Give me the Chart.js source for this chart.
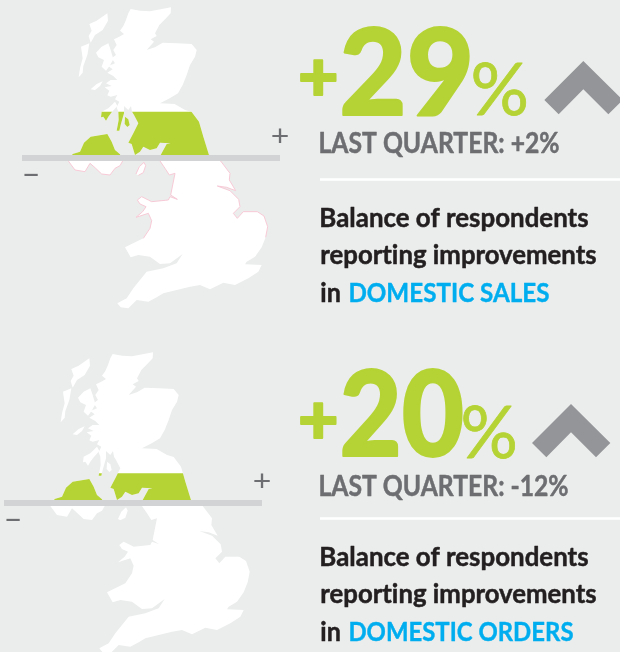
<!DOCTYPE html>
<html>
<head>
<meta charset="utf-8">
<style>
html,body{margin:0;padding:0;background:#ebedec;}
canvas{display:block;}
</style>
<script src="https://cdn.jsdelivr.net/npm/chart.js@4/dist/chart.umd.min.js"></script>
</head>
<body>
<canvas id="c" width="620" height="652"></canvas>
<script>
// ---- values
const metricNames = ['DOMESTIC SALES', 'DOMESTIC ORDERS'];
const balanceValues = [29, 20];
const lastQuarterValues = [2, -12];
const introLines = ['Balance of respondents', 'reporting improvements', 'in '];
const lastQuarterLabel = 'LAST QUARTER: ';
const axisSigns = ['+', '\u2013'];
// Upper edge of the green fill on the map, in map units (bar sits at 465)
const fillTops = [335, 385];
const fillBase = 465;

// ---- UK outline (map units)
const eastUpper = [[385,40],[392,27],[420,32],[450,34],[482,28],[513,22],[512,40],[495,58],[478,75],[465,100],[470,108],[452,118],[462,125],[440,150],[465,142],[488,128],[530,130],[575,132],[590,150],[585,170],[570,195],[560,225],[548,255],[534,280],[509,295],[480,310],[524,312],[555,330],[575,336],[597,365],[610,410],[627,465]];
const eastLower = [[627,465],[662,483],[690,520],[688,540],[707,572],[680,562],[652,558],[690,572],[716,598],[720,620],[700,640],[712,655],[730,635],[772,635],[792,648],[803,680],[797,712]];
const southCoast = [[797,712],[785,742],[765,770],[740,785],[735,793],[785,795],[775,815],[745,835],[705,855],[670,848],[630,868],[600,855],[570,860],[530,870],[490,880],[470,892],[445,905],[410,900],[385,925],[362,922],[352,910],[380,895],[400,865],[420,840],[440,815],[490,805],[530,790],[548,762],[510,790],[480,792],[450,770],[415,765],[392,772],[375,742],[430,715]];
const westLower = [[430,715],[450,685],[455,662],[445,640],[408,652],[428,635],[438,620],[420,612],[412,600],[425,590],[445,600],[455,605],[505,600],[510,590],[532,598],[512,585],[518,555],[525,520],[508,525],[495,505],[480,483]];
const westUpper = [[480,483],[482,465],[500,432],[512,430],[480,428],[470,445],[450,450],[430,440],[420,455],[405,465],[395,432],[385,428],[400,400],[415,370],[402,345],[396,335],[393,318],[385,330],[372,318],[372,340],[362,375],[358,392],[350,392],[356,360],[355,335],[350,322],[358,305],[345,298],[352,285],[332,290],[322,286],[328,272],[314,262],[335,258],[318,250],[332,240],[352,240],[340,228],[322,218],[338,208],[325,198],[345,190],[335,175],[348,165],[340,150],[350,135],[342,118],[358,110],[372,102],[360,92],[370,78],[378,60],[385,40]];
const jura = [[345,305],[352,318],[335,337],[325,350],[318,362],[310,350],[303,352],[305,335],[325,325]];
const arran = [[375,350],[385,358],[389,375],[382,381],[374,372]];
const skye = [[288,158],[305,140],[325,130],[332,150],[340,178],[330,196],[318,212],[305,200],[312,180],[295,172]];
const lewis = [[268,72],[290,62],[322,40],[324,62],[308,90],[285,105],[272,128],[266,108],[275,92]];
const uist = [[243,140],[268,130],[262,165],[250,198],[248,218],[236,232],[240,205],[248,175]];
const mull = [[272,268],[290,252],[308,244],[300,258],[285,270]];
const niNorth = [[205,483],[218,462],[240,455],[252,428],[272,410],[322,402],[335,425],[345,450],[360,463],[368,483]];
const niSouth = [[368,483],[360,497],[345,505],[330,525],[305,522],[285,503],[270,490],[255,515],[225,510],[205,483]];
const isleOfMan = [[408,522],[418,500],[432,487],[437,497],[430,518],[415,526]];
const chevronShape = [[1750,183],[1633,300],[1676,343],[1750,268],[1825,343],[1868,300]];

const mainland = [].concat(eastUpper, eastLower, southCoast, westLower, westUpper);
const northernIreland = niNorth.concat(niSouth);
const landParts = [mainland, northernIreland, isleOfMan, jura, arran, skye, lewis, uist, mull];
const pinkCoasts = [eastLower, westLower, niSouth, isleOfMan];
const barLine = [[66,474],[840,474]];

// ---- styles and placing
const GREEN = '#b5d334', WHITE = '#ffffff', BAR = '#d1d3d4', GREY = '#939598',
      TEXTGREY = '#6d6e71', DARK = '#231f20', BLUE = '#00aeef', PINK = '#f7c9d6';
const mapOffsets = [[0,0],[-54,1035]];
const chevronOffsets = [[0,0],[-37,1029]];
const FONT = 'Lato, sans-serif';

function pts(list, dx, dy){ return list.map(p => ({x:p[0]+dx, y:p[1]+dy})); }
function clipY(list, yVal, keepBelow){
  const out = [];
  for (let i=0;i<list.length;i++){
    const a=list[i], b=list[(i+1)%list.length];
    const ain = keepBelow ? a[1]>=yVal : a[1]<=yVal;
    const bin = keepBelow ? b[1]>=yVal : b[1]<=yVal;
    if (ain) out.push(a);
    if (ain!==bin){
      const t=(yVal-a[1])/(b[1]-a[1]);
      out.push([a[0]+t*(b[0]-a[0]), yVal]);
    }
  }
  return out;
}
const datasets = [];
function add(list, dx, dy, opts){
  datasets.push(Object.assign({data:pts(list,dx,dy), showLine:true, pointRadius:0, borderWidth:0,
    borderDash:[100,0], fill:false, order:-datasets.length}, opts));
}
mapOffsets.forEach((o,m)=>{
  landParts.forEach(part=>add(part,o[0],o[1],{fill:'shape',backgroundColor:WHITE,borderColor:WHITE}));
  landParts.forEach(part=>{
    const c = clipY(clipY(part,fillTops[m],true),fillBase,false);
    if (c.length>2) add(c,o[0],o[1],{fill:'shape',backgroundColor:GREEN,borderColor:GREEN});
  });
  if (m===0) pinkCoasts.forEach(part=>add(part,o[0],o[1],{borderWidth:1,borderColor:PINK}));
  add(barLine,o[0],o[1],{borderWidth:6,borderColor:BAR});
  add(chevronShape,chevronOffsets[m][0],chevronOffsets[m][1],{fill:'shape',backgroundColor:GREY,borderColor:GREY});
});

// Draw a string so that its ink spans x1..x2 on the given baseline; a top value fits the ink height too
function fit(ctx, text, font, color, x1, x2, base, top, stroke){
  ctx.save();
  ctx.font = font; ctx.fillStyle = color; ctx.strokeStyle = color; ctx.textBaseline='alphabetic'; ctx.textAlign='left';
  ctx.letterSpacing = '0.01px'; ctx.lineJoin='round';
  const m = ctx.measureText(text);
  const pad = stroke ? stroke/2 : 0;
  const ink = m.actualBoundingBoxRight + m.actualBoundingBoxLeft;
  const sx = (x2-x1-2*pad)/ink;
  let sy = 1, y = base;
  if (top!==undefined){
    sy = (base-top-2*pad)/(m.actualBoundingBoxAscent+m.actualBoundingBoxDescent);
    y = base - pad - m.actualBoundingBoxDescent*sy;
  }
  ctx.translate(x1 + pad + m.actualBoundingBoxLeft*sx, y);
  ctx.scale(sx, sy);
  ctx.fillText(text,0,0);
  if (stroke){ ctx.lineWidth = stroke; ctx.strokeText(text,0,0); }
  ctx.restore();
}
function signed(v){ return (v>0?'+':'-')+Math.abs(v); }

const textBlocks = [
  {plus:[300,337,96,59], num:[342,470,116,24], pct:[473,527,116,62], lq:[320,559,153], rule:179.5, lines:[226.5,263.5,301.5], blueEnd:549,
   signP:[272,288,144,128], signM:[24,38,176.5,174]},
  {plus:[300,337,439,402], num:[342,463,458,367], pct:[463,516,459,405], lq:[320,568,496], rule:518.5, lines:[565.5,603,640.5], blueEnd:573,
   signP:[254,270,489,473], signM:[6,20,521,518.5]}
];

const textPlugin = {
  id:'labels',
  afterDraw(chart){
    const ctx = chart.ctx;
    textBlocks.forEach((b,i)=>{
      fit(ctx,'+','900 70px '+FONT,GREEN,b.plus[0],b.plus[1],b.plus[2],b.plus[3],2);
      fit(ctx,String(balanceValues[i]),'900 125px '+FONT,GREEN,b.num[0],b.num[1],b.num[2],b.num[3],2);
      fit(ctx,'%','400 74px '+FONT,GREEN,b.pct[0],b.pct[1],b.pct[2],b.pct[3],0.8);
      fit(ctx,lastQuarterLabel+signed(lastQuarterValues[i])+'%','700 28px '+FONT,TEXTGREY,b.lq[0],b.lq[1],b.lq[2],undefined,0.5);
      ctx.fillStyle = WHITE; ctx.fillRect(320,b.rule-1.25,300,2.5);
      const f='700 27px '+FONT;
      fit(ctx,introLines[0],f,DARK,321,588,b.lines[0],undefined,0.5);
      fit(ctx,introLines[1],f,DARK,321,596,b.lines[1],undefined,0.5);
      fit(ctx,'in',f,DARK,321,340,b.lines[2],undefined,0.5);
      fit(ctx,metricNames[i],f,BLUE,350,b.blueEnd,b.lines[2],undefined,0.4);
      fit(ctx,axisSigns[0],'400 26px '+FONT,TEXTGREY,b.signP[0],b.signP[1],b.signP[2],b.signP[3]);
      fit(ctx,axisSigns[1],'400 26px '+FONT,TEXTGREY,b.signM[0],b.signM[1],b.signM[2],b.signM[3]);
    });
  }
};

new Chart(document.getElementById('c'),{
  type:'scatter',
  data:{datasets},
  plugins:[textPlugin],
  options:{
    responsive:false, animation:false, events:[],
    layout:{padding:0},
    plugins:{legend:{display:false},tooltip:{enabled:false},title:{display:false}},
    scales:{
      x:{type:'linear',min:0,max:1860,display:false},
      y:{type:'linear',min:0,max:1956,reverse:true,display:false}
    }
  }
});
</script>
</body>
</html>
